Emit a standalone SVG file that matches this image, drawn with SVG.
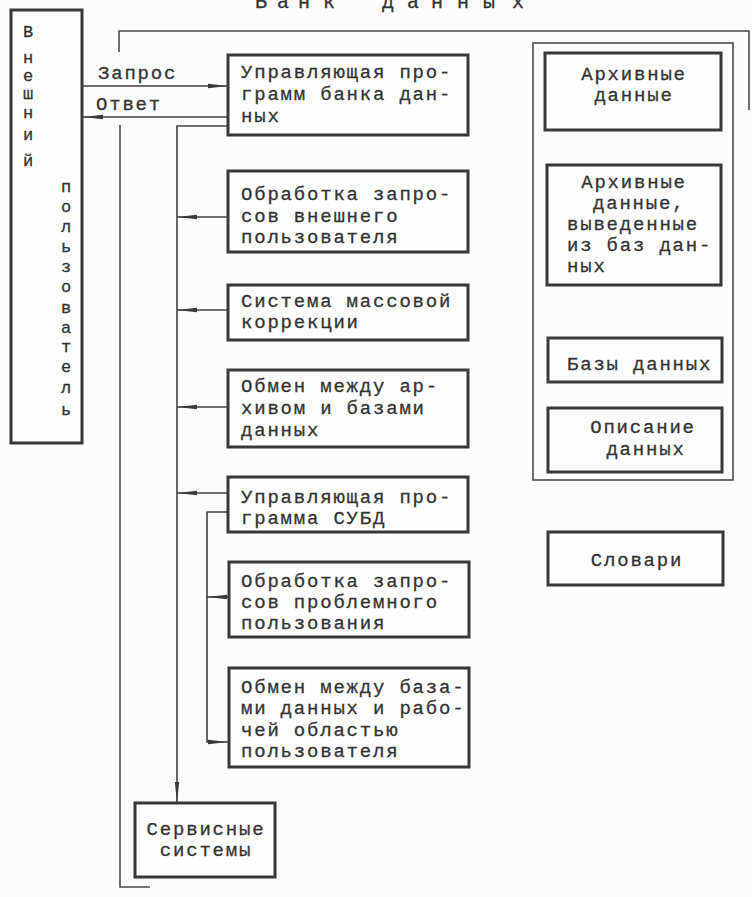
<svg xmlns="http://www.w3.org/2000/svg" width="752" height="897" viewBox="0 0 752 897">
<style>
.bg{fill:#fcfcfc}
.box{fill:#fefefe;stroke:#383838;stroke-width:3}
.frame{fill:none;stroke:#4a4a4a;stroke-width:1.6}
.conn{fill:none;stroke:#404040;stroke-width:1.6}
text{font-family:"Liberation Mono","DejaVu Sans Mono",monospace;font-size:19px;letter-spacing:1.8px;fill:#333;stroke:#333;stroke-width:0.3}
.c{text-anchor:middle}
.v{font-size:17px;letter-spacing:0}
.t{font-size:20px;letter-spacing:0}
</style>
<defs>
<marker id="ah" viewBox="0 0 20 6" refX="20" refY="3" markerWidth="20" markerHeight="6" markerUnits="userSpaceOnUse" orient="auto">
<path d="M0,0.8 L20,3 L0,5.2 z" fill="#3a3a3a"/>
</marker>
</defs>
<rect class="bg" x="0" y="0" width="752" height="897"/>

<g id="title">
<text class="t" x="255 277 298 323 350 382 407 431 457 483 512" y="8">Банк данных</text>
</g>

<g id="frames">
<path class="frame" d="M119,52 V31 H749 V110"/>
<path class="frame" d="M120,125 V887 H150"/>
<rect class="frame" x="533" y="43" width="200" height="437"/>
</g>

<g id="user">
<rect class="box" x="11" y="10" width="71" height="433"/>
<text class="c v" x="28" y="37">В</text>
<text class="c v" x="28" y="63">н</text>
<text class="c v" x="28" y="81">е</text>
<text class="c v" x="28" y="99">ш</text>
<text class="c v" x="28" y="118">н</text>
<text class="c v" x="28" y="140">и</text>
<text class="c v" x="28" y="166">й</text>
<text class="c v" x="66" y="192">п</text>
<text class="c v" x="66" y="212">о</text>
<text class="c v" x="66" y="232">л</text>
<text class="c v" x="66" y="252">ь</text>
<text class="c v" x="66" y="272">з</text>
<text class="c v" x="66" y="292">о</text>
<text class="c v" x="66" y="313">в</text>
<text class="c v" x="66" y="333">а</text>
<text class="c v" x="66" y="352">т</text>
<text class="c v" x="66" y="372">е</text>
<text class="c v" x="66" y="393">л</text>
<text class="c v" x="66" y="415">ь</text>
</g>

<g id="connectors">
<line class="conn" x1="82" y1="86" x2="228" y2="86" marker-end="url(#ah)"/>
<line class="conn" x1="228" y1="117" x2="83" y2="117" marker-end="url(#ah)"/>
<path class="conn" d="M228,126 H177 V802" marker-end="url(#ah)"/>
<line class="conn" x1="228" y1="217" x2="177" y2="217" marker-end="url(#ah)"/>
<line class="conn" x1="228" y1="310" x2="177" y2="310" marker-end="url(#ah)"/>
<line class="conn" x1="228" y1="407" x2="177" y2="407" marker-end="url(#ah)"/>
<line class="conn" x1="228" y1="493" x2="177" y2="493" marker-end="url(#ah)"/>
<path class="conn" d="M228,512 H207 V742 H228" marker-end="url(#ah)"/>
<line class="conn" x1="228" y1="597" x2="207" y2="597" marker-end="url(#ah)"/>
<text x="98" y="79">Запрос</text>
<text x="96" y="110">Ответ</text>
</g>

<g id="n1">
<rect class="box" x="228" y="55" width="240" height="80"/>
<text x="241" y="78">Управляющая про-</text>
<text x="241" y="100">грамм банка дан-</text>
<text x="241" y="122">ных</text>
</g>
<g id="n2">
<rect class="box" x="228" y="171" width="240" height="81"/>
<text x="241" y="200">Обработка запро-</text>
<text x="241" y="222">сов внешнего</text>
<text x="241" y="243">пользователя</text>
</g>
<g id="n3">
<rect class="box" x="228" y="285" width="240" height="55"/>
<text x="241" y="307">Система массовой</text>
<text x="241" y="328">коррекции</text>
</g>
<g id="n4">
<rect class="box" x="228" y="370" width="240" height="77"/>
<text x="241" y="392">Обмен между ар-</text>
<text x="241" y="414">хивом и базами</text>
<text x="241" y="436">данных</text>
</g>
<g id="n5">
<rect class="box" x="228" y="477" width="240" height="55"/>
<text x="241" y="503">Управляющая про-</text>
<text x="241" y="524">грамма СУБД</text>
</g>
<g id="n6">
<rect class="box" x="229" y="562" width="240" height="75"/>
<text x="241" y="587">Обработка запро-</text>
<text x="241" y="608">сов проблемного</text>
<text x="241" y="629">пользования</text>
</g>
<g id="n7">
<rect class="box" x="229" y="668" width="240" height="99"/>
<text x="241" y="693">Обмен между база-</text>
<text x="241" y="714">ми данных и рабо-</text>
<text x="241" y="736">чей областью</text>
<text x="241" y="757">пользователя</text>
</g>
<g id="n8">
<rect class="box" x="135" y="803" width="140" height="74"/>
<text class="c" x="206" y="835">Сервисные</text>
<text class="c" x="206" y="856">системы</text>
</g>

<g id="r1">
<rect class="box" x="545" y="53" width="176" height="77"/>
<text class="c" x="634" y="80">Архивные</text>
<text class="c" x="634" y="101">данные</text>
</g>
<g id="r2">
<rect class="box" x="547" y="165" width="174" height="120"/>
<text class="c" x="634" y="188">Архивные</text>
<text x="593" y="209">данные,</text>
<text x="567" y="230">выведенные</text>
<text x="567" y="251">из баз дан-</text>
<text x="567" y="272">ных</text>
</g>
<g id="r3">
<rect class="box" x="548" y="338" width="174" height="44"/>
<text x="567" y="370">Базы данных</text>
</g>
<g id="r4">
<rect class="box" x="548" y="408" width="174" height="64"/>
<text class="c" x="643" y="433">Описание</text>
<text class="c" x="646" y="455">данных</text>
</g>
<g id="r5">
<rect class="box" x="548" y="532" width="175" height="53"/>
<text class="c" x="637" y="566">Словари</text>
</g>
</svg>
